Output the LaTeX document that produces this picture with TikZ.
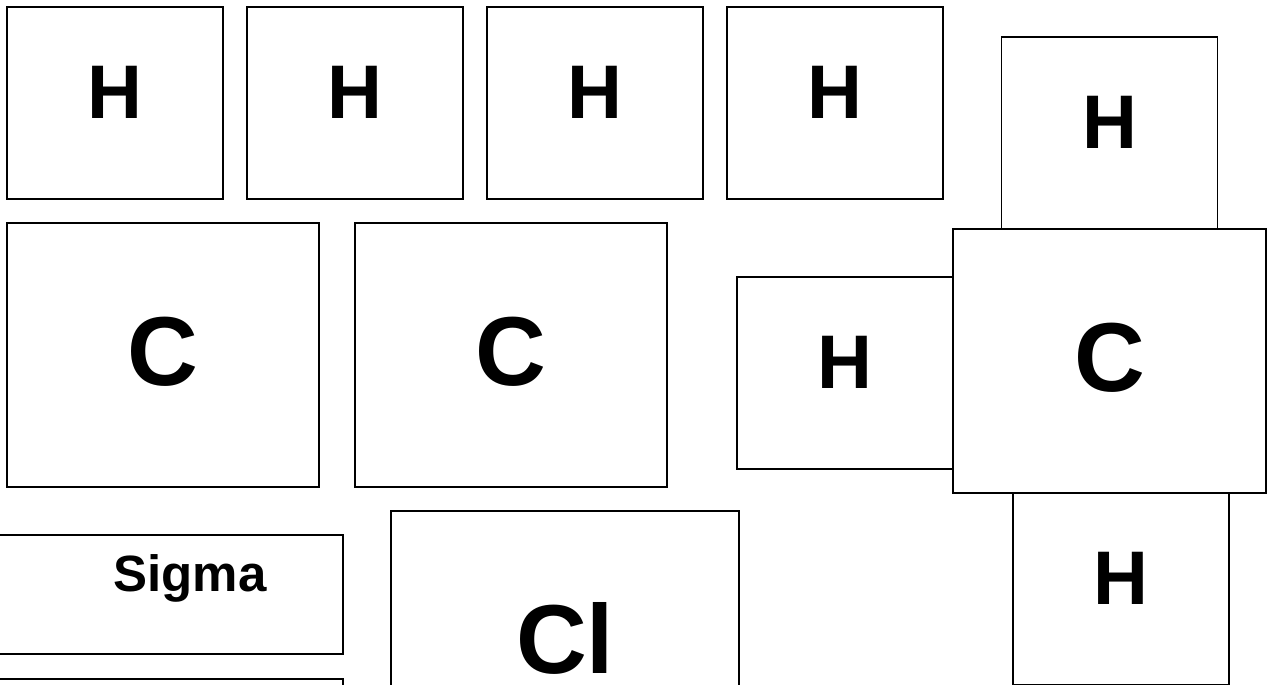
\documentclass[tikz,border=0pt]{standalone}
\usepackage{fontspec}
\setmainfont{Liberation Sans}
\usetikzlibrary{positioning}

\begin{document}
\begin{tikzpicture}[x=1pt, y=-1pt,
    box/.style={draw, line width=2.2pt, inner sep=0pt, outer sep=0pt},
    hbox/.style={box, minimum width=216pt, minimum height=192pt,
      font=\bfseries\fontsize{76}{80}\selectfont, text height=54pt, text depth=23pt},
    cbox/.style={box, minimum width=312pt, minimum height=264pt,
      font=\bfseries\fontsize{98}{100}\selectfont, text height=70pt, text depth=9pt},
    sbox/.style={box, minimum width=403pt, minimum height=119pt},
    molbox/.style={line width=1.4pt}]

    \useasboundingbox (0,0) rectangle (1274,685);
    \clip (0,0) rectangle (1274,685);

    % --- Top row of H cards ---
    \node[hbox] (h1) at (115,103) {H};
    \node[hbox, right=24pt of h1] (h2) {H};
    \node[hbox, right=24pt of h2] (h3) {H};
    \node[hbox, right=24pt of h3] (h4) {H};

    % --- C cards ---
    \node[cbox] (c1) at (163,355) {C};
    \node[cbox, right=36pt of c1] (c2) {C};

    % --- Bottom left ---
    \node[sbox] (sigma) at (141.5,594.5) {};
    \node[font=\bfseries\fontsize{51}{54}\selectfont, anchor=base] (sigmatxt)
      at (190,591) {Sigma};
    \node[sbox] (blank) at (141.5,738.5) {};
    \node[cbox, minimum width=348pt] (cl) at (565,643) {Cl};

    % --- Methane group ---
    \node[cbox, molbox, minimum width=313pt] (c3) at (1109.5,361) {C};
    \node[hbox, molbox, anchor=south] (h5) at (c3.north) {H};
    \node[hbox, molbox, anchor=east] (h6) at ([yshift=-12pt]c3.west) {H};
    \node[hbox, molbox, anchor=north] (h7) at ([xshift=11.5pt]c3.south) {H};
  \end{tikzpicture}
\end{document}
